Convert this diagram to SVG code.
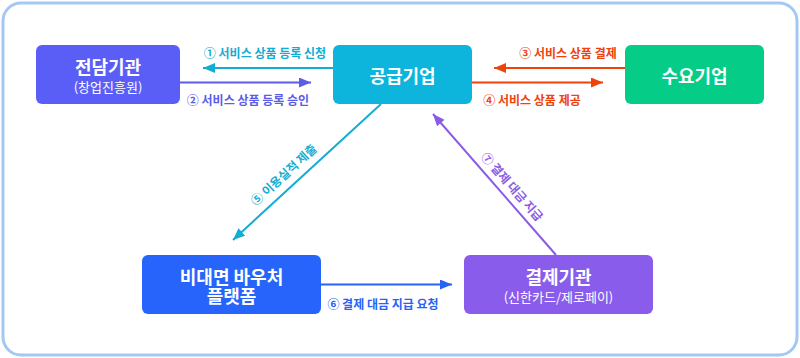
<svg xmlns="http://www.w3.org/2000/svg" width="800" height="358" viewBox="0 0 800 358">
<defs>
<style>
text{font-family:"Noto Sans CJK KR","Noto Sans",sans-serif;text-anchor:middle;dominant-baseline:central}
.t{font-size:18px;font-weight:700;fill:#fff}
.s{font-size:13px;font-weight:400;fill:#fff}
.l{font-size:12px;font-weight:700}
.ln{stroke-width:2;fill:none}
</style>
<marker id="aC" viewBox="0 0 12 10" refX="12" refY="5" markerWidth="12" markerHeight="10" markerUnits="userSpaceOnUse" orient="auto"><path d="M0,0L12,5L0,10Z" fill="#13acd3"/></marker>
<marker id="aI" viewBox="0 0 12 10" refX="12" refY="5" markerWidth="12" markerHeight="10" markerUnits="userSpaceOnUse" orient="auto"><path d="M0,0L12,5L0,10Z" fill="#5b5ce8"/></marker>
<marker id="aO" viewBox="0 0 12 10" refX="12" refY="5" markerWidth="12" markerHeight="10" markerUnits="userSpaceOnUse" orient="auto"><path d="M0,0L12,5L0,10Z" fill="#ef430d"/></marker>
<marker id="aB" viewBox="0 0 12 10" refX="12" refY="5" markerWidth="12" markerHeight="10" markerUnits="userSpaceOnUse" orient="auto"><path d="M0,0L12,5L0,10Z" fill="#2863f5"/></marker>
<marker id="aP" viewBox="0 0 12 10" refX="12" refY="5" markerWidth="12" markerHeight="10" markerUnits="userSpaceOnUse" orient="auto"><path d="M0,0L12,5L0,10Z" fill="#8a5ce6"/></marker>
</defs>
<rect x="3" y="3" width="794" height="352" rx="18" fill="#fff" stroke="#a3c8f3" stroke-width="3"/>
<g id="connectors">
<line class="ln" x1="333" y1="68" x2="203" y2="68" stroke="#13acd3" marker-end="url(#aC)"/>
<text class="l" x="265" y="52" fill="#13acd3">① 서비스 상품 등록 신청</text>
<line class="ln" x1="180" y1="82.5" x2="311" y2="82.5" stroke="#5b5ce8" marker-end="url(#aI)"/>
<text class="l" x="248" y="99" fill="#5b5ce8">② 서비스 상품 등록 승인</text>
<line class="ln" x1="625" y1="68" x2="494" y2="68" stroke="#ef430d" marker-end="url(#aO)"/>
<text class="l" x="568" y="52" fill="#ef430d">③ 서비스 상품 결제</text>
<line class="ln" x1="472" y1="82.5" x2="603" y2="82.5" stroke="#ef430d" marker-end="url(#aO)"/>
<text class="l" x="532" y="99" fill="#ef430d">④ 서비스 상품 제공</text>
<line class="ln" x1="381" y1="104" x2="233" y2="240" stroke="#13acd3" marker-end="url(#aC)"/>
<text class="l" transform="translate(283,174) rotate(-42.5)" fill="#13acd3">⑤ 이용실적 제출</text>
<line class="ln" x1="321" y1="284.5" x2="452" y2="284.5" stroke="#2863f5" marker-end="url(#aB)"/>
<text class="l" x="383" y="303" fill="#2863f5">⑥ 결제 대금 지급 요청</text>
<line class="ln" x1="556" y1="255" x2="433" y2="114" stroke="#8a5ce6" marker-end="url(#aP)"/>
<text class="l" transform="translate(513,186) rotate(48.7)" fill="#8a5ce6">⑦ 결제 대금 지급</text>
</g>
<g id="n1">
<rect x="36" y="45" width="144" height="59" rx="6" fill="#5b5ef6"/>
<text class="t" x="108" y="66">전담기관</text>
<text class="s" x="108" y="86.5">(창업진흥원)</text>
</g>
<g id="n2">
<rect x="333" y="45" width="139" height="59" rx="6" fill="#0db4dc"/>
<text class="t" x="402.5" y="75">공급기업</text>
</g>
<g id="n3">
<rect x="625" y="45" width="139" height="59" rx="6" fill="#05cd87"/>
<text class="t" x="694.5" y="75">수요기업</text>
</g>
<g id="n4">
<rect x="142" y="255" width="179" height="59" rx="6" fill="#2764fc"/>
<text class="t" x="231.5" y="275.5">비대면 바우처</text>
<text class="t" x="231.5" y="295">플랫폼</text>
</g>
<g id="n5">
<rect x="464" y="255" width="189" height="59" rx="6" fill="#895cec"/>
<text class="t" x="558.5" y="276">결제기관</text>
<text class="s" x="558.5" y="296.5">(신한카드/제로페이)</text>
</g>
</svg>
